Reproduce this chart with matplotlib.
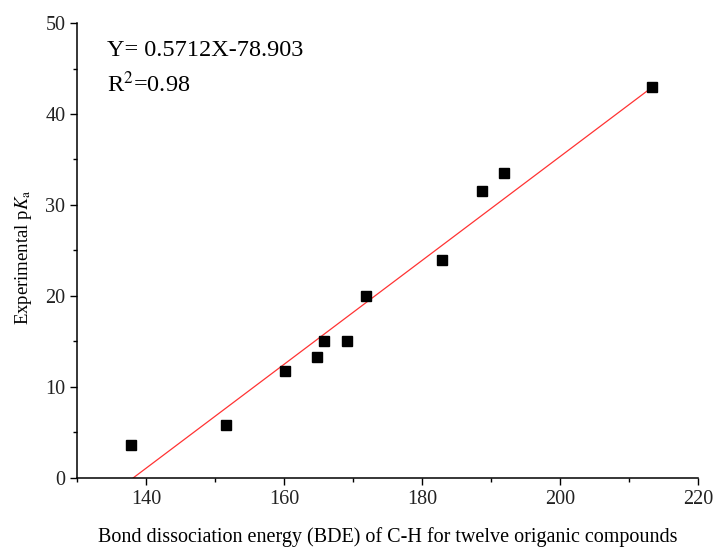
import matplotlib
matplotlib.use("Agg")
import matplotlib.pyplot as plt
import numpy as np
from matplotlib.ticker import MultipleLocator

plt.rcParams['font.family'] = ['Liberation Serif', 'DejaVu Serif']
plt.rcParams['mathtext.fontset'] = 'stix'

# BDE of C-H (x) vs experimental pKa (y)
bde = [137.8, 151.6, 160.1, 164.8, 165.7, 169.1, 171.8, 182.9, 188.7, 191.8, 213.3]
pka = [3.6, 5.8, 11.8, 13.3, 15.0, 15.0, 20.0, 24.0, 31.5, 33.5, 43.0]

slope = 0.5712
intercept = -78.903
r2 = 0.98

fig = plt.figure(figsize=(7.14, 5.48), dpi=100)
ax = fig.add_axes([0.108, 0.128, 0.870, 0.830])

# fitted line from y=0 up to the last point
x0 = -intercept / slope
xfit = np.linspace(x0, max(bde), 200)
ax.plot(xfit, slope * xfit + intercept, color='#ff3333', lw=0.9, zorder=2)
ax.plot(bde, pka, 's', color='black', markersize=7.5, zorder=3)

ax.set_xlim(130, 220)
ax.set_ylim(0, 50)
ax.xaxis.set_major_locator(MultipleLocator(20))
ax.xaxis.set_minor_locator(MultipleLocator(10))
ax.yaxis.set_major_locator(MultipleLocator(10))
ax.yaxis.set_minor_locator(MultipleLocator(5))
ax.tick_params(which='major', direction='out', length=5, width=1, labelsize=14.5,
               labelcolor='#222222')
ax.tick_params(which='minor', direction='out', length=3, width=1)
for s in ['top', 'right']:
    ax.spines[s].set_visible(False)
for s in ['left', 'bottom']:
    ax.spines[s].set_linewidth(1.1)

ax.set_xlabel('Bond dissociation energy (BDE) of C-H for twelve origanic compounds',
              fontsize=14.5, labelpad=13)
ax.set_ylabel(r'Experimental p$\mathit{K}_\mathrm{a}$', fontsize=13.5)
ax.yaxis.set_label_coords(-0.07, 0.485)

ax.text(134.3, 47.0, 'Y= %.4fX%.3f' % (slope, intercept), fontsize=17.5, va='center')
ax.text(134.3, 43.3, r'R$^2$=%.2f' % r2, fontsize=17.5, va='center')

fig.savefig('out.png', dpi=100)
